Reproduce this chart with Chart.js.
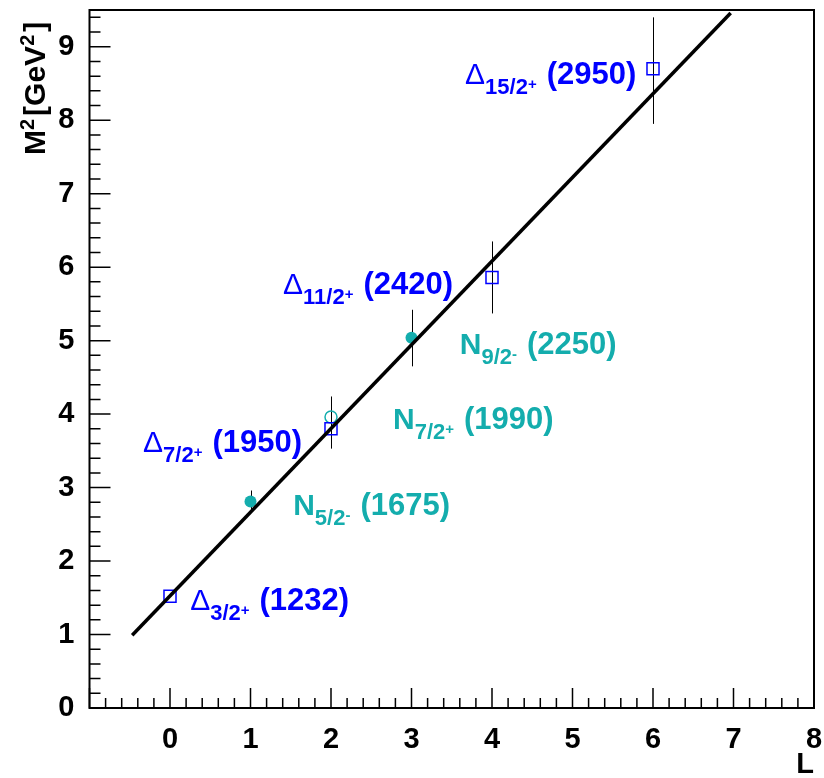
<!DOCTYPE html>
<html>
<head>
<meta charset="utf-8">
<script src="https://cdn.jsdelivr.net/npm/chart.js@4/dist/chart.umd.min.js"></script>
<style>
  html, body { margin: 0; padding: 0; background: #fff; }
  canvas { display: block; }
</style>
</head>
<body>
<canvas id="regge" width="824" height="778"></canvas>
<script>
// Delta states (open squares)
const deltaL = [0, 2, 4, 6];
const deltaM2 = [1.52, 3.80, 5.86, 8.70];
const deltaErrUp = [0, 0.44, 0.49, 0.70];
const deltaErrDown = [0, 0.27, 0.49, 0.75];

// N states with error bars (filled circles)
const nL = [1, 3];
const nM2 = [2.81, 5.04];
const nErrUp = [0.15, 0.38];
const nErrDown = [0.14, 0.39];

// N state without error bar (open circle)
const nOpenL = [2];
const nOpenM2 = [3.96];

// straight-line fit
const fitL = [-0.47, 6.965];
const fitM2 = [0.99, 9.46];

const xTicks = [0, 1, 2, 3, 4, 5, 6, 7, 8];
const yTicks = [0, 1, 2, 3, 4, 5, 6, 7, 8, 9];

// state labels
const labelMain = ['Δ', 'Δ', 'N', 'N', 'Δ', 'N', 'Δ'];
const labelSub = ['15/2', '11/2', '9/2', '7/2', '7/2', '5/2', '3/2'];
const labelSup = ['+', '+', '-', '+', '+', '-', '+'];
const labelMass = ['(2950)', '(2420)', '(2250)', '(1990)', '(1950)', '(1675)', '(1232)'];

const BLUE = '#0000ff';
const TEAL = '#14adad';
const FONT = '"Liberation Sans", Arial, Helvetica, sans-serif';

const labelColor = [BLUE, BLUE, TEAL, TEAL, BLUE, TEAL, BLUE];
// anchor (left edge, baseline) in axis units
const labelAt = [[3.665, 8.49], [1.404, 5.64], [3.60, 4.82], [2.77, 3.80], [-0.335, 3.48], [1.53, 2.62], [0.25, 1.33]];

const toPts = (xs, ys) => xs.map((x, i) => ({ x: x, y: ys[i] }));

const noPad = s => { s.paddingTop = 0; s.paddingBottom = 0; s.paddingLeft = 0; s.paddingRight = 0; };

const errorBars = {
    id: 'errorBars',
    beforeDatasetsDraw(chart) {
        const ctx = chart.ctx;
        const xs = chart.scales.x, ys = chart.scales.y;
        const sets = [[deltaL, deltaM2, deltaErrUp, deltaErrDown], [nL, nM2, nErrUp, nErrDown]];
        ctx.save();
        ctx.strokeStyle = '#000';
        ctx.lineWidth = 1;
        sets.forEach(s => {
            s[0].forEach((l, i) => {
                if (!s[2][i] && !s[3][i]) return;
                const px = Math.round(xs.getPixelForValue(l)) + 0.5;
                ctx.beginPath();
                ctx.moveTo(px, ys.getPixelForValue(s[1][i] + s[2][i]));
                ctx.lineTo(px, ys.getPixelForValue(s[1][i] - s[3][i]));
                ctx.stroke();
            });
        });
        ctx.restore();
    }
};

const frameAndText = {
    id: 'frameAndText',
    afterDatasetsDraw(chart) {
        const ctx = chart.ctx;
        const a = chart.chartArea;
        const xs = chart.scales.x, ys = chart.scales.y;
        ctx.save();

        // inward ticks, ROOT style
        ctx.strokeStyle = '#000';
        ctx.lineWidth = 1.5;
        ctx.beginPath();
        for (let k = 0; k <= 45; k++) {
            const v = xs.min + k * 0.2;
            const px = xs.getPixelForValue(v);
            const len = k % 5 === 0 ? 20 : 10;
            ctx.moveTo(px, a.bottom);
            ctx.lineTo(px, a.bottom - len);
        }
        for (let k = 0; k * 0.2 <= ys.max + 1e-6; k++) {
            const py = ys.getPixelForValue(k * 0.2);
            const len = k % 5 === 0 ? 21 : 11;
            ctx.moveTo(a.left, py);
            ctx.lineTo(a.left + len, py);
        }
        ctx.stroke();

        ctx.lineWidth = 2;
        ctx.strokeRect(a.left, a.top, a.right - a.left, a.bottom - a.top);

        // state labels
        ctx.textAlign = 'left';
        ctx.textBaseline = 'alphabetic';
        labelMain.forEach((m, i) => {
            let cx = xs.getPixelForValue(labelAt[i][0]);
            const cy = ys.getPixelForValue(labelAt[i][1]);
            ctx.fillStyle = labelColor[i];
            ctx.font = (m === 'Δ' ? '' : 'bold ') + '30px ' + FONT;
            ctx.fillText(m, cx, cy);
            cx += ctx.measureText(m).width;
            ctx.font = 'bold 22px ' + FONT;
            ctx.fillText(labelSub[i], cx, cy + 10);
            cx += ctx.measureText(labelSub[i]).width;
            ctx.font = 'bold 15px ' + FONT;
            ctx.fillText(labelSup[i], cx, cy + 5);
            cx += ctx.measureText(labelSup[i]).width + 10;
            ctx.font = 'bold 31px ' + FONT;
            ctx.fillText(labelMass[i], cx, cy);
        });

        // axis titles
        ctx.fillStyle = '#000';
        ctx.font = 'bold 29px ' + FONT;
        ctx.textAlign = 'right';
        ctx.fillText('L', 814, 773);

        ctx.translate(45, 155);
        ctx.rotate(-Math.PI / 2);
        ctx.textAlign = 'left';
        const parts = [['M', 30, 0], ['2', 20, -11], ['[GeV', 30, 0], ['2', 20, -11], [']', 30, 0]];
        let tx = 0;
        parts.forEach(p => {
            ctx.font = 'bold ' + p[1] + 'px ' + FONT;
            ctx.fillText(p[0], tx, p[2]);
            tx += ctx.measureText(p[0]).width + (p[1] < 25 ? 3 : 0);
        });
        ctx.restore();
    }
};

new Chart(document.getElementById('regge'), {
    type: 'scatter',
    data: {
        datasets: [
            {
                type: 'line',
                data: toPts(fitL, fitM2),
                borderColor: '#000',
                borderWidth: 3.5,
                pointRadius: 0,
                fill: false
            },
            {
                data: toPts(deltaL, deltaM2),
                pointStyle: 'rect',
                pointRadius: 8.5,
                borderColor: BLUE,
                backgroundColor: 'rgba(0,0,0,0)',
                borderWidth: 1.5
            },
            {
                data: toPts(nL, nM2),
                pointStyle: 'circle',
                pointRadius: 6,
                borderColor: TEAL,
                backgroundColor: TEAL,
                borderWidth: 0
            },
            {
                data: toPts(nOpenL, nOpenM2),
                pointStyle: 'circle',
                pointRadius: 6,
                borderColor: TEAL,
                backgroundColor: 'rgba(0,0,0,0)',
                borderWidth: 1.5
            }
        ]
    },
    options: {
        responsive: false,
        animation: false,
        devicePixelRatio: 1,
        layout: { padding: { top: 9, right: 9, left: 0, bottom: 0 } },
        plugins: { legend: { display: false }, tooltip: { enabled: false } },
        scales: {
            x: {
                type: 'linear',
                min: -1,
                max: 8,
                afterFit: s => { s.height = 70; noPad(s); },
                afterBuildTicks: s => { s.ticks = [-1].concat(xTicks).map(v => ({ value: v })); },
                grid: { display: false },
                border: { display: false },
                ticks: {
                    padding: 7,
                    color: '#000',
                    maxRotation: 0,
                    autoSkip: false,
                    font: { family: FONT, size: 29, weight: 'bold' },
                    callback: v => v < 0 ? '' : v
                }
            },
            y: {
                type: 'linear',
                min: 0,
                max: 9.5,
                afterFit: s => { s.width = 89.5; noPad(s); },
                afterBuildTicks: s => { s.ticks = yTicks.map(v => ({ value: v })); },
                grid: { display: false },
                border: { display: false },
                ticks: {
                    padding: 7,
                    color: '#000',
                    autoSkip: false,
                    font: { family: FONT, size: 29, weight: 'bold' }
                }
            }
        }
    },
    plugins: [errorBars, frameAndText]
});
</script>
</body>
</html>
